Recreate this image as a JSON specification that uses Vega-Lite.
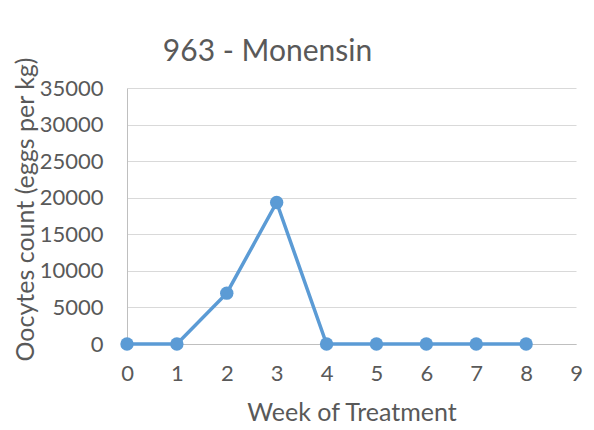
{
  "$schema": "https://vega.github.io/schema/vega-lite/v6.json",
  "width": 449,
  "height": 256,
  "autosize": {"type": "none"},
  "padding": {"left": 127, "top": 88, "right": 18, "bottom": 86},
  "background": "white",
  "title": {
    "text": "963 - Monensin",
    "font": "Lato",
    "fontSize": 30,
    "fontWeight": "normal",
    "color": "#595959",
    "anchor": "middle",
    "dx": -84,
    "offset": -10
  },
  "data": {
    "values": [
      {"week": 0, "count": 0},
      {"week": 1, "count": 0},
      {"week": 2, "count": 6950},
      {"week": 3, "count": 19350},
      {"week": 4, "count": 0},
      {"week": 5, "count": 0},
      {"week": 6, "count": 0},
      {"week": 7, "count": 0},
      {"week": 8, "count": 0}
    ]
  },
  "config": {
    "view": {"stroke": null},
    "axis": {
      "labelFont": "Lato",
      "labelFontSize": 22,
      "labelColor": "#595959",
      "titleFont": "Lato",
      "titleFontSize": 25,
      "titleFontWeight": "normal",
      "titleColor": "#595959",
      "domainColor": "#bfbfbf",
      "gridColor": "#d9d9d9",
      "ticks": false,
      "labelOverlap": false,
      "labelFlush": false
    }
  },
  "encoding": {
    "x": {
      "field": "week",
      "type": "quantitative",
      "scale": {"domain": [0, 9], "nice": false},
      "axis": {"title": "Week of Treatment", "values": [0,1,2,3,4,5,6,7,8,9], "grid": false, "labelPadding": 19, "titlePadding": 16}
    },
    "y": {
      "field": "count",
      "type": "quantitative",
      "scale": {"domain": [0, 35000], "nice": false},
      "axis": {"title": "Oocytes count (eggs per kg)", "values": [0,5000,10000,15000,20000,25000,30000,35000], "format": "d", "labelPadding": 24, "titlePadding": 1, "titleY": 121, "labelOverlap": false}
    }
  },
  "layer": [
    {"mark": {"type": "line", "color": "#5b9bd5", "strokeWidth": 3.5}},
    {"mark": {"type": "point", "filled": true, "opacity": 1, "color": "#5b9bd5", "size": 180}}
  ]
}
